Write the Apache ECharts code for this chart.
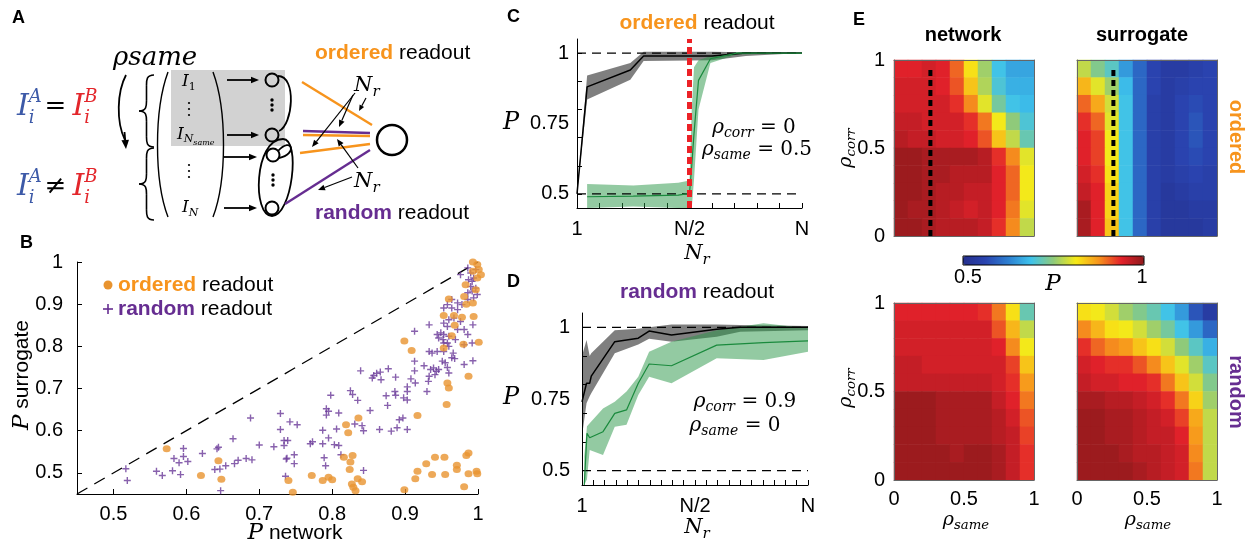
<!DOCTYPE html>
<html lang="en">
<head>
<meta charset="UTF-8" />
<title>Ordered vs random readout</title>
<script src="https://cdn.jsdelivr.net/npm/echarts@6.0.0/dist/echarts.min.js"></script>
<style>
  html, body { margin: 0; padding: 0; background: #fff; }
  #fig { width: 1254px; height: 544px; }
</style>
</head>
<body>
<div id="fig"></div>
<script>
// ---- B: P network vs P surrogate ----
const bRandom = [
  [0.517,0.510],[0.519,0.482],[0.559,0.504],[0.567,0.494],[0.581,0.505],[0.592,0.496],[0.583,0.534],[0.590,0.524],
  [0.596,0.539],[0.602,0.527],[0.596,0.558],[0.622,0.546],[0.639,0.508],[0.646,0.509],[0.654,0.517],[0.642,0.557],
  [0.644,0.561],[0.664,0.581],[0.666,0.522],[0.671,0.530],[0.682,0.534],[0.690,0.531],[0.688,0.630],[0.700,0.566],
  [0.720,0.562],[0.729,0.641],[0.729,0.603],[0.742,0.621],[0.752,0.614],[0.734,0.577],[0.739,0.577],[0.734,0.565],
  [0.738,0.535],[0.748,0.543],[0.748,0.522],[0.736,0.492],[0.647,0.458],[0.770,0.569],[0.773,0.574],
  [0.798,0.684],[0.792,0.652],[0.795,0.646],[0.809,0.642],[0.792,0.637],[0.787,0.601],[0.795,0.583],[0.787,0.569],
  [0.803,0.567],[0.809,0.565],[0.806,0.604],[0.789,0.536],[0.791,0.517],[0.812,0.543],[0.825,0.695],[0.828,0.686],
  [0.835,0.672],[0.831,0.616],[0.841,0.612],[0.843,0.600],[0.852,0.648],[0.839,0.742],[0.855,0.725],[0.857,0.731],
  [0.861,0.736],[0.866,0.739],[0.867,0.721],[0.877,0.747],[0.887,0.727],[0.874,0.683],[0.876,0.660],[0.886,0.693],
  [0.887,0.684],[0.865,0.603],[0.881,0.599],[0.889,0.607],[0.903,0.603],[0.892,0.626],[0.897,0.630],[0.898,0.678],
  [0.903,0.673],[0.903,0.693],[0.903,0.704],[0.908,0.723],[0.914,0.713],[0.913,0.742],[0.913,0.765],[0.926,0.754],
  [0.930,0.693],[0.932,0.717],[0.933,0.729],[0.935,0.745],[0.939,0.749],[0.943,0.741],[0.946,0.745],[0.941,0.733],
  [0.913,0.836],[0.933,0.851],[0.933,0.788],[0.937,0.784],[0.944,0.788],[0.944,0.828],[0.949,0.832],[0.946,0.820],
  [0.952,0.816],[0.958,0.808],[0.960,0.800],[0.953,0.788],[0.951,0.765],[0.955,0.761],[0.958,0.750],[0.960,0.737],
  [0.966,0.784],[0.964,0.773],[0.968,0.771],[0.981,0.757],[0.993,0.766],[0.992,0.808],[0.981,0.804],[0.986,0.828],
  [0.981,0.840],[0.972,0.840],[0.958,0.847],[0.953,0.855],[0.960,0.863],[0.967,0.867],[0.976,0.859],[0.993,0.851],
  [0.972,0.887],[0.964,0.891],[0.953,0.891],[0.958,0.899],[0.964,0.911],[0.972,0.903],[0.978,0.899],[0.986,0.911],
  [0.994,0.915],[0.986,0.927],[0.992,0.931],[0.990,0.942],[0.997,0.938],[0.987,0.958],[0.994,0.962],[0.976,0.970],
  [0.990,0.974],[0.997,0.982],[0.986,0.986],[0.992,0.954],[0.999,0.923],[0.953,0.828],[0.953,0.808],[0.969,0.816],
  [0.960,0.824],[0.843,0.506],[0.737,0.533]
];
const bOrdered = [
  [0.573,0.557],[0.620,0.494],[0.644,0.529],[0.648,0.485],[0.740,0.482],[0.746,0.454],[0.772,0.494],[0.787,0.482],
  [0.795,0.490],[0.800,0.484],[0.816,0.537],[0.828,0.541],[0.825,0.526],[0.824,0.508],[0.827,0.474],[0.829,0.466],
  [0.832,0.458],[0.835,0.486],[0.841,0.479],[0.819,0.614],[0.822,0.595],[0.836,0.630],[0.899,0.813],[0.909,0.790],
  [0.917,0.636],[0.899,0.460],[0.917,0.504],[0.914,0.486],[0.929,0.522],[0.937,0.496],[0.941,0.537],[0.954,0.537],
  [0.955,0.496],[0.971,0.518],[0.971,0.508],[0.984,0.541],[0.987,0.547],[0.987,0.498],[0.998,0.504],[0.999,0.498],
  [0.981,0.467],[0.957,0.662],[0.960,0.701],[0.958,0.713],[0.987,0.729],[0.980,0.805],[1.001,0.810],[0.953,0.796],
  [0.964,0.825],[0.968,0.850],[0.953,0.873],[0.967,0.873],[0.978,0.869],[0.994,0.871],[0.960,0.912],[0.981,0.918],
  [0.984,0.900],[0.993,0.903],[0.983,0.946],[0.997,0.934],[0.993,0.978],[0.999,0.994],[0.993,1.000],[1.001,0.982],
  [0.999,0.962],[1.004,0.970]
];
const bTicks = [0.5, 0.6, 0.7, 0.8, 0.9, 1];

// ---- C: ordered readout, x = fraction of N ----
const cNetX    = [0, 0.045, 0.237, 0.296, 0.6, 0.75, 1];
const cNetMean = [0.5, 0.88, 0.94, 0.99, 0.99, 1.0, 1.0];
const cNetLo   = [0.5, 0.835, 0.905, 0.972, 0.975, 0.99, 1.0];
const cNetHi   = [0.5, 0.92, 0.965, 1.005, 1.005, 1.003, 1.0];
const cSurX    = [0.045, 0.25, 0.45, 0.5, 0.51, 0.52, 0.54, 0.593, 0.71, 1.0];
const cSurMean = [0.49, 0.492, 0.496, 0.502, 0.6, 0.715, 0.903, 0.98, 1.0, 1.0];
const cSurLo   = [0.45, 0.455, 0.45, 0.45, 0.45, 0.55, 0.8, 0.965, 0.995, 1.0];
const cSurHi   = [0.535, 0.53, 0.54, 0.548, 0.8, 0.95, 0.975, 0.99, 1.002, 1.0];
const cXTicks  = [0, 0.1, 0.2, 0.3, 0.4, 0.5, 0.6, 0.7, 0.8, 0.9, 1];

// ---- D: random readout ----
const dNetX    = [0, 0.02, 0.034, 0.041, 0.145, 0.249, 0.297, 0.396, 0.596, 0.7, 1.0];
const dNetMean = [0.74, 0.805, 0.805, 0.83, 0.95, 0.962, 0.987, 0.973, 0.993, 1.0, 1.0];
const dNetLo   = [0.62, 0.735, 0.76, 0.77, 0.91, 0.94, 0.96, 0.95, 0.967, 0.985, 0.99];
const dNetHi   = [0.9, 0.956, 0.9, 0.91, 0.99, 0.995, 1.0, 1.01, 1.01, 1.008, 1.005];
const dSurX    = [0.01, 0.022, 0.034, 0.093, 0.145, 0.197, 0.249, 0.297, 0.396, 0.596, 0.803, 1.0];
const dSurMean = [0.45, 0.63, 0.615, 0.636, 0.70, 0.712, 0.805, 0.872, 0.866, 0.938, 0.947, 0.953];
const dSurLo   = [0.45, 0.47, 0.572, 0.555, 0.653, 0.66, 0.764, 0.828, 0.805, 0.892, 0.886, 0.915];
const dSurHi   = [0.55, 0.655, 0.665, 0.717, 0.74, 0.776, 0.828, 0.915, 0.95, 0.99, 1.014, 0.997];
const dXTicks  = [0, 0.05, 0.1, 0.15, 0.2, 0.25, 0.3, 0.35, 0.4, 0.45, 0.5, 0.55, 0.6, 0.65, 0.7, 0.75, 0.8, 0.85, 0.9, 0.95, 1];
const pTicks   = [0.5, 0.6, 0.7, 0.8, 0.9, 1];
const pLabels  = [0.5, 0.75, 1];

// ---- E: P over (rho_same, rho_corr); rows from rho_corr = 0.95 (top) down to 0.05 ----
const cells = ['0.05','0.15','0.25','0.35','0.45','0.55','0.65','0.75','0.85','0.95'];
const netOrdered = [
  [0.94,0.94,0.95,0.94,0.90,0.82,0.76,0.69,0.66,0.66],
  [0.95,0.95,0.95,0.94,0.91,0.84,0.77,0.70,0.67,0.67],
  [0.95,0.95,0.95,0.95,0.93,0.88,0.80,0.73,0.69,0.68],
  [0.96,0.96,0.95,0.95,0.95,0.93,0.89,0.81,0.75,0.70],
  [0.97,0.96,0.96,0.95,0.95,0.94,0.91,0.84,0.78,0.72],
  [0.99,0.99,0.98,0.98,0.98,0.98,0.97,0.93,0.88,0.80],
  [0.99,0.99,0.98,0.98,0.97,0.97,0.97,0.94,0.90,0.81],
  [0.99,0.99,0.98,0.97,0.97,0.96,0.96,0.94,0.90,0.81],
  [0.99,0.98,0.98,0.97,0.96,0.95,0.96,0.94,0.89,0.80],
  [0.99,0.99,0.98,0.97,0.97,0.97,0.96,0.93,0.88,0.78]
];
const surOrdered = [
  [0.78,0.74,0.71,0.65,0.60,0.56,0.54,0.54,0.55,0.56],
  [0.85,0.80,0.76,0.68,0.60,0.56,0.54,0.55,0.56,0.56],
  [0.90,0.86,0.79,0.69,0.60,0.55,0.54,0.56,0.57,0.56],
  [0.93,0.90,0.80,0.69,0.60,0.55,0.54,0.56,0.58,0.56],
  [0.94,0.92,0.81,0.69,0.60,0.55,0.54,0.56,0.58,0.56],
  [0.94,0.92,0.81,0.69,0.60,0.55,0.54,0.56,0.57,0.56],
  [0.95,0.93,0.82,0.69,0.60,0.55,0.54,0.55,0.56,0.55],
  [0.96,0.94,0.83,0.69,0.60,0.55,0.53,0.54,0.55,0.55],
  [0.98,0.94,0.83,0.69,0.60,0.55,0.53,0.53,0.54,0.54],
  [0.98,0.94,0.84,0.69,0.60,0.55,0.53,0.53,0.53,0.54]
];
const netRandom = [
  [0.94,0.94,0.94,0.94,0.94,0.94,0.93,0.89,0.82,0.72],
  [0.95,0.95,0.95,0.95,0.95,0.95,0.95,0.91,0.85,0.78],
  [0.95,0.95,0.95,0.95,0.95,0.95,0.95,0.94,0.88,0.81],
  [0.96,0.96,0.95,0.95,0.95,0.95,0.95,0.95,0.92,0.84],
  [0.96,0.96,0.96,0.96,0.96,0.96,0.96,0.95,0.93,0.87],
  [0.99,0.99,0.99,0.98,0.98,0.98,0.98,0.96,0.94,0.89],
  [0.99,0.99,0.99,0.98,0.98,0.98,0.98,0.97,0.95,0.91],
  [0.99,0.99,0.99,0.98,0.98,0.98,0.98,0.97,0.96,0.92],
  [0.99,0.99,0.99,0.99,0.98,0.99,0.99,0.98,0.96,0.93],
  [0.99,0.99,0.99,0.99,0.99,0.99,0.99,0.98,0.96,0.93]
];
const surRandom = [
  [0.82,0.81,0.79,0.76,0.74,0.72,0.69,0.65,0.58,0.54],
  [0.88,0.85,0.82,0.81,0.79,0.76,0.73,0.69,0.65,0.60],
  [0.93,0.90,0.88,0.87,0.84,0.82,0.79,0.75,0.71,0.67],
  [0.95,0.94,0.93,0.93,0.91,0.88,0.84,0.80,0.76,0.71],
  [0.96,0.95,0.95,0.94,0.94,0.93,0.89,0.84,0.79,0.74],
  [0.98,0.98,0.97,0.97,0.96,0.95,0.93,0.89,0.83,0.76],
  [0.99,0.99,0.98,0.98,0.97,0.96,0.95,0.92,0.86,0.78],
  [0.99,0.99,0.98,0.98,0.97,0.96,0.96,0.94,0.87,0.78],
  [0.99,0.99,0.99,0.98,0.97,0.97,0.96,0.95,0.88,0.78],
  [0.99,0.99,0.99,0.99,0.98,0.97,0.96,0.95,0.89,0.78]
];
const eTicks = [0, 0.5, 1];
const dashedSame = [[0.26, 0], [0.26, 0.95]];

const SANS = "'Liberation Sans', Arial, sans-serif";
const MATH = "'DejaVu Serif', serif";
const ORANGE = '#f7941d', PURPLE = '#662d91';
const JET = ['#252f8c','#2a44b0','#2d7fd1','#3ec3ec','#8fca7a','#f7ea16','#f7941d','#e3212b','#8e1a1c'];

// ---------- text helpers ----------
const ctx2d = document.createElement('canvas').getContext('2d');
function fontStr(p) {
  return [p.italic ? 'italic' : '', p.bold ? 'bold' : '', (p.size || 19) + 'px', p.family || SANS].join(' ').trim();
}
// lays out a row of text pieces (for sub/superscripts), returns a graphic group
function row(x, y, parts, opt) {
  opt = opt || {};
  let w = 0;
  const kids = [];
  parts.forEach(p => {
    const font = fontStr(p);
    ctx2d.font = font;
    const tw = ctx2d.measureText(p.t).width;
    w += p.dx || 0;
    kids.push({ type: 'text', x: w, y: p.dy || 0, z: 60,
      style: { text: p.t, font, fill: p.color || '#000', align: 'left', verticalAlign: 'middle',
               textAlign: 'left', textVerticalAlign: 'middle' } });
    if (!p.stay) w += tw;
  });
  const off = opt.align === 'center' ? -w / 2 : (opt.align === 'right' ? -w : 0);
  kids.forEach(k => { k.x += off; });
  return { type: 'group', x, y, rotation: opt.rot || 0, z: 60, silent: true, children: kids };
}
const M = (t, size, o) => Object.assign({ t, size, italic: true, family: MATH }, o);
const U = (t, size, o) => Object.assign({ t, size, family: MATH }, o);
const S = (t, size, o) => Object.assign({ t, size, family: SANS }, o);
const rho = (sub, size) => [M('ρ', size), M(sub, size * 0.7, { dy: size * 0.28 })];

function ln(x1, y1, x2, y2, color, w) {
  return { type: 'line', z: 50, silent: true, shape: { x1, y1, x2, y2 }, style: { stroke: color || '#000', lineWidth: w || 1.5 } };
}
function bez(a, b, c, d, w) {
  return { type: 'bezierCurve', z: 50, silent: true,
    shape: { x1: a[0], y1: a[1], cpx1: b[0], cpy1: b[1], cpx2: c[0], cpy2: c[1], x2: d[0], y2: d[1] },
    style: { stroke: '#000', lineWidth: w || 1.6, fill: 'none' } };
}
function arrow(x1, y1, x2, y2, w, head) {
  const a = Math.atan2(y2 - y1, x2 - x1), h = head || 7, hw = h * 0.42;
  const bx = x2 - h * Math.cos(a), by = y2 - h * Math.sin(a);
  return [ln(x1, y1, bx, by, '#000', w),
    { type: 'polygon', z: 50, silent: true, shape: { points: [[x2, y2],
      [bx - hw * Math.sin(a), by + hw * Math.cos(a)], [bx + hw * Math.sin(a), by - hw * Math.cos(a)]] },
      style: { fill: '#000' } }];
}
function brace(x, y0, y1, w) {
  const ym = (y0 + y1) / 2, xm = x - w * 0.5, xc = x - w, q = (y1 - y0) * 0.07;
  return [
    bez([x, y0], [xm, y0], [xm, y0 + q], [xm, y0 + 2 * q]),
    ln(xm, y0 + 2 * q, xm, ym - 2 * q, '#000', 1.6),
    bez([xm, ym - 2 * q], [xm, ym - q], [xm, ym], [xc, ym]),
    bez([xc, ym], [xm, ym], [xm, ym + q], [xm, ym + 2 * q]),
    ln(xm, ym + 2 * q, xm, y1 - 2 * q, '#000', 1.6),
    bez([xm, y1 - 2 * q], [xm, y1 - q], [xm, y1], [x, y1])
  ];
}
function circ(cx, cy, r, w, fill) {
  return { type: 'circle', z: 50, silent: true, shape: { cx, cy, r }, style: { stroke: '#000', lineWidth: w, fill: fill || 'none' } };
}
function vdots(x, y, r, gap) {
  return [-1, 0, 1].map(k => ({ type: 'circle', z: 50, silent: true, shape: { cx: x, cy: y + k * gap, r }, style: { fill: '#000' } }));
}
function formula(y, sign) {
  const blue = '#3d5aa8', red = '#e3262b';
  return row(17, y, [M('I', 30, { color: blue }), M('A', 18, { dy: -10, color: blue, stay: true }),
    M('i', 18, { dy: 11, color: blue }), U(sign, 26, { dx: 10 }),
    M('I', 30, { dx: 6, color: red }), M('B', 18, { dy: -10, color: red, stay: true }),
    M('i', 18, { dy: 11, color: red })]);
}

// ---------- panel A schematic ----------
const schematic = [].concat(
  [{ type: 'rect', z: 40, silent: true, shape: { x: 171, y: 70, width: 114, height: 76 }, style: { fill: '#d2d2d2' } }],
  [row(113, 58, [M('ρ', 26), M('same', 26)])],
  [bez([126, 75], [117, 92], [116, 122], [125, 140], 1.8)],
  arrow(124.5, 132, 126, 149, 1.8, 9),
  brace(154, 75, 147, 15),
  brace(154, 148, 220, 15),
  [bez([168, 72], [154, 110], [154, 180], [168, 217], 1.4),
   bez([213, 72], [227, 110], [227, 180], [213, 217], 1.4)],
  [row(182, 82, [M('I', 17), U('1', 11, { dy: 5 })]),
   row(177, 135, [M('I', 17), M('N', 11, { dy: 4 }), M('same', 8, { dy: 8 })]),
   row(182, 208, [M('I', 17), M('N', 11, { dy: 5 })])],
  vdots(189, 109, 1.1, 6), vdots(189, 171, 1.1, 6),
  arrow(227, 80, 259, 80, 1.8, 8), arrow(227, 135, 259, 135, 1.8, 8),
  arrow(224, 157, 257, 157, 1.8, 8), arrow(224, 208, 257, 208, 1.8, 8),
  [circ(272, 80, 6.5, 2), circ(272, 135, 6.5, 2), circ(273, 155, 6.5, 2), circ(272, 208, 6.5, 2)],
  vdots(272, 105, 1.7, 5), vdots(273, 180, 1.7, 5),
  [bez([278, 76], [297, 76], [293, 125], [279, 131], 1.8),
   bez([278, 151], [292, 136], [298, 154], [279, 158], 1.8),
   bez([283, 139], [254, 139], [252, 216], [272, 216], 1.8),
   bez([283, 139], [301, 139], [292, 216], [272, 216], 1.8)],
  [ln(302, 82, 372, 125, ORANGE, 2.4), ln(303, 131, 370, 133, PURPLE, 2.4), ln(303, 135, 370, 136, ORANGE, 2.4),
   ln(300, 153, 370, 144, ORANGE, 2.4), ln(285, 204, 370, 150, PURPLE, 2.4)],
  [circ(392, 140, 15, 2.5)],
  [row(354, 86, [M('N', 21), M('r', 15, { dy: 6 })]), row(354, 182, [M('N', 21), M('r', 15, { dy: 6 })])],
  arrow(355, 93, 312, 147, 1.2, 7), arrow(353, 95, 339, 127, 1.2, 7), arrow(366, 98, 359, 111, 1.2, 6),
  arrow(358, 168, 337, 139, 1.2, 7), arrow(352, 177, 318, 190, 1.2, 7),
  [row(315, 53, [S('ordered', 21, { bold: true, color: ORANGE }), S(' readout', 21)]),
   row(315, 213, [S('random', 21, { bold: true, color: PURPLE }), S(' readout', 21)])],
  [formula(107, '='), formula(187, '≠')]
);

// ---------- other labels ----------
const labels = [
  row(12, 18, [S('A', 18, { bold: true })]),
  row(20, 243, [S('B', 18, { bold: true })]),
  row(507, 17, [S('C', 18, { bold: true })]),
  row(507, 282, [S('D', 18, { bold: true })]),
  row(853, 20, [S('E', 18, { bold: true })]),
  // B
  { type: 'circle', z: 50, silent: true, shape: { cx: 108, cy: 285, r: 4.5 }, style: { fill: '#e8932f' } },
  ln(108, 304, 108, 314, PURPLE, 1.6), ln(103, 309, 113, 309, PURPLE, 1.6),
  row(118, 285, [S('ordered', 21, { bold: true, color: ORANGE }), S(' readout', 21)]),
  row(118, 309, [S('random', 21, { bold: true, color: PURPLE }), S(' readout', 21)]),
  row(22, 375, [M('P', 23), S(' surrogate', 21)], { align: 'center', rot: Math.PI / 2 }),
  row(295, 533, [M('P', 23), S(' network', 21)], { align: 'center' }),
  // C
  row(697, 23, [S('ordered', 21, { bold: true, color: ORANGE }), S(' readout', 21)], { align: 'center' }),
  row(503, 123, [M('P', 24)]),
  row(697, 254, [M('N', 21), M('r', 15, { dy: 6 })], { align: 'center' }),
  row(754, 128, rho('corr', 20).concat([U(' = 0', 20)]), { align: 'center' }),
  row(757, 150, rho('same', 20).concat([U(' = 0.5', 20)]), { align: 'center' }),
  // D
  row(697, 292, [S('random', 21, { bold: true, color: PURPLE }), S(' readout', 21)], { align: 'center' }),
  row(503, 398, [M('P', 24)]),
  row(697, 528, [M('N', 21), M('r', 15, { dy: 6 })], { align: 'center' }),
  row(745, 402, rho('corr', 20).concat([U(' = 0.9', 20)]), { align: 'center' }),
  row(735, 426, rho('same', 20).concat([U(' = 0', 20)]), { align: 'center' }),
  // E
  row(963, 35, [S('network', 20, { bold: true })], { align: 'center' }),
  row(1142, 35, [S('surrogate', 20, { bold: true })], { align: 'center' }),
  row(1236, 137, [S('ordered', 20, { bold: true, color: ORANGE })], { align: 'center', rot: -Math.PI / 2 }),
  row(1236, 392, [S('random', 20, { bold: true, color: PURPLE })], { align: 'center', rot: -Math.PI / 2 }),
  row(846, 148, rho('corr', 19), { align: 'center', rot: Math.PI / 2 }),
  row(846, 388, rho('corr', 19), { align: 'center', rot: Math.PI / 2 }),
  row(966, 520, rho('same', 19), { align: 'center' }),
  row(1148, 520, rho('same', 19), { align: 'center' }),
  row(968, 277, [S('0.5', 20)], { align: 'center' }),
  row(1142, 277, [S('1', 20)], { align: 'center' }),
  row(1053, 284, [M('P', 23)], { align: 'center' }),
  { type: 'rect', z: 50, silent: true, shape: { x: 963, y: 256, width: 181, height: 9 }, style: { fill: 'none', stroke: '#000', lineWidth: 1 } }
];

// ---------- axes ----------
const axisFont = { fontFamily: SANS, fontSize: 20, color: '#000' };
const num = v => String(Math.round(v * 1000) / 1000);
function valueAxis(gi, pos, min, max, ticks, labs, margin, fmt, extra) {
  return Object.assign({
    gridIndex: gi, type: 'value', position: pos, min, max,
    axisLine: { show: true, onZero: false, lineStyle: { color: '#000', width: 1 } },
    axisTick: { show: true, inside: true, length: 5, customValues: ticks, lineStyle: { color: '#000' } },
    axisLabel: Object.assign({ margin, customValues: labs, formatter: fmt || num }, axisFont),
    splitLine: { show: false }
  }, extra || {});
}
const nrFmt = v => (v < 0.25 ? '1' : (v > 0.75 ? 'N' : 'N/2'));
const xAxes = [
  valueAxis(0, 'bottom', 0.45, 1, bTicks, bTicks, 10),
  valueAxis(1, 'bottom', 0, 1, cXTicks, [0, 0.5, 1], 11, nrFmt),
  valueAxis(2, 'bottom', 0, 1, dXTicks, [0, 0.5, 1], 11, nrFmt)
];
const yAxes = [
  valueAxis(0, 'left', 0.45, 1, bTicks, bTicks, 14),
  valueAxis(1, 'left', 0.45, 1.05, pTicks, pLabels, 8),
  valueAxis(2, 'left', 0.45, 1.05, pTicks, pLabels, 12)
];
for (let k = 0; k < 4; k++) {
  const gi = 3 + k, bottomRow = k >= 2, leftCol = k % 2 === 0;
  const frame = { show: true, onZero: false, lineStyle: { color: '#666', width: 1 } };
  xAxes.push(valueAxis(gi, 'bottom', 0, 1, eTicks, eTicks, 9, null,
    { z: 5, axisLine: frame, axisTick: { show: false }, axisLabel: Object.assign({ show: bottomRow, margin: 9, customValues: eTicks, formatter: num }, axisFont) }));
  xAxes.push({ gridIndex: gi, type: 'category', position: 'top', data: cells, z: 5,
    axisLine: frame, axisTick: { show: false }, axisLabel: { show: false }, splitLine: { show: false } });
  yAxes.push(valueAxis(gi, 'left', 0, 1, eTicks, eTicks, 9, null,
    { z: 5, axisLine: frame, axisTick: { show: false }, axisLabel: Object.assign({ show: leftCol, margin: 9, customValues: eTicks, formatter: num }, axisFont) }));
  yAxes.push({ gridIndex: gi, type: 'category', position: 'right', data: cells, z: 5,
    axisLine: frame, axisTick: { show: false }, axisLabel: { show: false }, splitLine: { show: false } });
}

// ---------- series ----------
const pts = (xs, ys) => xs.map((x, i) => [x, ys[i]]);
function band(xs, lo, hi, color, ai) {
  const data = xs.map((x, i) => [x, lo[i], hi[i]]);
  return { type: 'custom', xAxisIndex: ai, yAxisIndex: ai, silent: true, clip: true, data, encode: { x: 0, y: [1, 2] },
    renderItem(params, api) {
      if (params.dataIndex !== 0) return null;
      const up = data.map(d => api.coord([d[0], d[2]]));
      const low = data.map(d => api.coord([d[0], d[1]])).reverse();
      return { type: 'polygon', shape: { points: up.concat(low) }, style: { fill: color } };
    } };
}
function curve(data, ai, color, w, dash, z) {
  return { type: 'line', xAxisIndex: ai, yAxisIndex: ai, data, symbol: 'none', silent: true, animation: false,
    z: z || 3, lineStyle: { color, width: w, type: dash || 'solid' } };
}
function heat(rows, k) {
  const data = [];
  rows.forEach((r, ri) => r.forEach((v, ci) => data.push([ci, rows.length - 1 - ri, v])));
  return { type: 'heatmap', xAxisIndex: 4 + 2 * k, yAxisIndex: 4 + 2 * k, data, silent: true, progressive: 0 };
}

const series = [
  curve([[0.45, 0.45], [1, 1]], 0, '#000', 1.3, [12, 8], 2),
  { type: 'scatter', xAxisIndex: 0, yAxisIndex: 0, data: bRandom, clip: false, silent: true,
    symbol: 'path://M-1,-5h2v4h4v2h-4v4h-2v-4h-4v-2h4z', symbolSize: 7, itemStyle: { color: '#6a3a98' } },
  { type: 'scatter', xAxisIndex: 0, yAxisIndex: 0, data: bOrdered, clip: false, silent: true,
    symbol: 'circle', symbolSize: [8, 7], itemStyle: { color: '#e8932f' } },

  band(cNetX, cNetLo, cNetHi, 'rgba(0,0,0,0.5)', 1),
  band(cSurX, cSurLo, cSurHi, 'rgba(40,150,70,0.5)', 1),
  curve([[0, 1], [1, 1]], 1, '#000', 1.2, [9, 6]),
  curve([[0, 0.5], [1, 0.5]], 1, '#000', 1.2, [9, 6]),
  curve(pts(cNetX, cNetMean), 1, '#000', 1.5),
  curve(pts(cSurX, cSurMean), 1, '#1a8a3d', 1.2),
  curve([[0.5, 0.45], [0.5, 1.05]], 1, '#ec2227', 5, [7, 4], 6),

  band(dNetX, dNetLo, dNetHi, 'rgba(0,0,0,0.5)', 2),
  band(dSurX, dSurLo, dSurHi, 'rgba(40,150,70,0.5)', 2),
  curve([[0, 1], [1, 1]], 2, '#000', 1.2, [9, 6]),
  curve([[0, 0.5], [1, 0.5]], 2, '#000', 1.2, [9, 6]),
  curve(pts(dNetX, dNetMean), 2, '#000', 1.5),
  curve(pts(dSurX, dSurMean), 2, '#1a8a3d', 1.2)
];
const heatStart = series.length;
series.push(heat(netOrdered, 0), heat(surOrdered, 1), heat(netRandom, 2), heat(surRandom, 3));
series.push(curve(dashedSame, 3, '#000', 4, [6, 4], 6), curve(dashedSame, 5, '#000', 4, [6, 4], 6));

const chart = echarts.init(document.getElementById('fig'));
chart.setOption({
  animation: false,
  backgroundColor: '#fff',
  grid: [
    { left: 77, top: 262, width: 401, height: 232 },
    { left: 577, top: 39, width: 225, height: 169 },
    { left: 582, top: 313, width: 226, height: 172 },
    { left: 894, top: 60, width: 140, height: 176 },
    { left: 1077, top: 60, width: 140, height: 176 },
    { left: 894, top: 303, width: 140, height: 177 },
    { left: 1077, top: 303, width: 140, height: 177 }
  ],
  xAxis: xAxes,
  yAxis: yAxes,
  visualMap: {
    type: 'continuous', min: 0.5, max: 1, seriesIndex: [heatStart, heatStart + 1, heatStart + 2, heatStart + 3],
    orient: 'horizontal', left: 963, top: 256, itemWidth: 9, itemHeight: 181, padding: 0,
    calculable: false, hoverLink: false, text: null, showLabel: false, inRange: { color: JET }
  },
  series,
  graphic: { elements: schematic.concat(labels) }
});
</script>
</body>
</html>
